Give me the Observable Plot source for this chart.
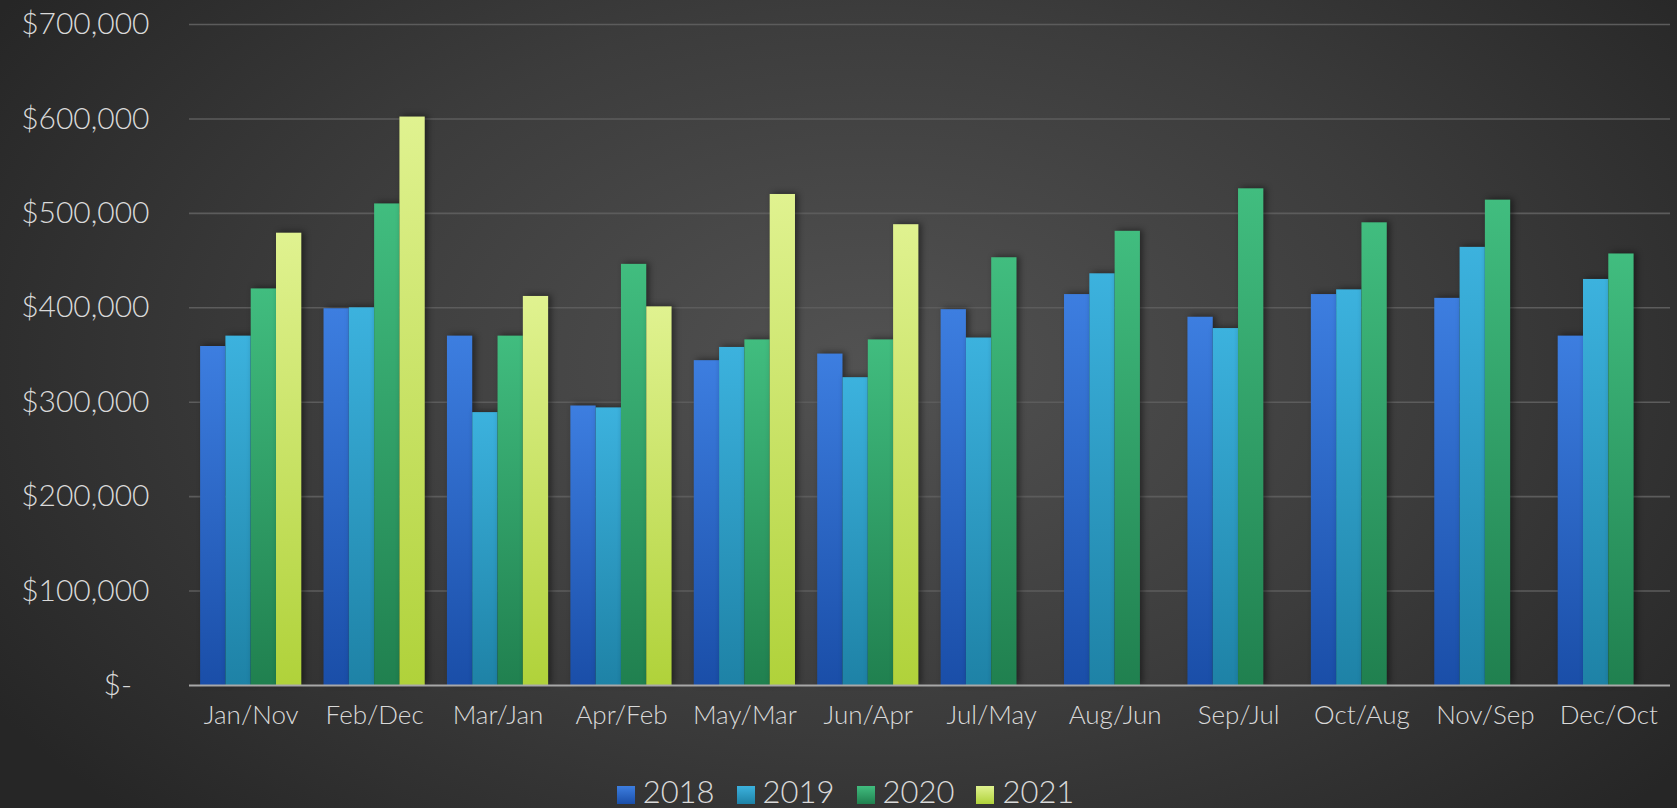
<!DOCTYPE html>
<html>
<head>
<meta charset="utf-8">
<script src="https://cdn.jsdelivr.net/npm/d3@7"></script>
<script src="https://cdn.jsdelivr.net/npm/@observablehq/plot@0.6"></script>
<style>
  html, body { margin: 0; padding: 0; }
  body {
    width: 1677px; height: 808px; overflow: hidden; position: relative;
    background: radial-gradient(ellipse 62% 80% at 52% 45%, #525252 0%, #3c3c3c 55%, #262626 100%);
    font-family: Lato, "Open Sans", sans-serif;
  }
  #chart { position: absolute; left: 0; top: 0; }
  #chart svg [aria-label^="y-axis"] text { font-size: 30px; font-weight: 300; }
  #chart svg [aria-label^="x-axis"] text { font-size: 26px; font-weight: 300; }
  #chart svg [aria-label="rect"] rect { filter: drop-shadow(3px -1px 3px rgba(0,0,0,0.45)); }
  #legend {
    position: absolute; left: 7px; top: 774px; width: 1677px; text-align: center;
    color: #d9d9d9; font-size: 31px; font-weight: 300; line-height: 34px; white-space: nowrap;
  }
  #legend .item { display: inline-block; margin: 0 11px; }
  #legend .sw { display: inline-block; width: 18px; height: 18px; margin-right: 8px; vertical-align: -1px; }
</style>
</head>
<body>
<div id="chart"></div>
<div id="legend"></div>
<script>
// ---- data ----
const months = ["Jan/Nov", "Feb/Dec", "Mar/Jan", "Apr/Feb", "May/Mar", "Jun/Apr",
                "Jul/May", "Aug/Jun", "Sep/Jul", "Oct/Aug", "Nov/Sep", "Dec/Oct"];
const years = ["2018", "2019", "2020", "2021"];
const v2018 = [359000, 399000, 370000, 296000, 344000, 351000, 398000, 414000, 390000, 414000, 410000, 370000];
const v2019 = [370000, 400000, 289000, 294000, 358000, 326000, 368000, 436000, 378000, 419000, 464000, 430000];
const v2020 = [420000, 510000, 370000, 446000, 366000, 366000, 453000, 481000, 526000, 490000, 514000, 457000];
const v2021 = [479000, 602000, 412000, 401000, 520000, 488000, null, null, null, null, null, null];
const yTicks = [0, 100000, 200000, 300000, 400000, 500000, 600000, 700000];

// ---- styling ----
const gradients = {
  "2018": ["#3d7ee0", "#1a4ea8"],
  "2019": ["#3cb2de", "#1e82a6"],
  "2020": ["#41bd7f", "#20804f"],
  "2021": ["#e0f290", "#b0d23a"]
};
const groupPad = 0.09;             // fraction of each category left empty on each side
const barW = (1 - 2 * groupPad) / years.length;

const series = [v2018, v2019, v2020, v2021];
const table = months.flatMap((m, i) =>
  series.map((vals, j) => ({month: m, idx: i, year: years[j], yi: j, value: vals[i]}))
).filter(d => d.value != null);

const fmt = d3.format(",");
const yFormat = d => d === 0 ? "$-\u2007" : "$" + fmt(d);

const plot = Plot.plot({
  width: 1677,
  height: 770,
  marginLeft: 189,
  marginRight: 7,
  marginTop: 24,
  marginBottom: 85,
  style: {background: "transparent", color: "#d9d9d9", fontFamily: "Lato, 'Open Sans', sans-serif", overflow: "visible"},
  x: {type: "linear", domain: [0, months.length], ticks: months.map((m, i) => i + 0.5),
      tickFormat: v => months[Math.floor(v)], tickSize: 0, tickPadding: 20, label: null, axis: "bottom"},
  y: {domain: [0, 700000], ticks: 7, tickFormat: yFormat, tickSize: 0, tickPadding: 40, label: null},
  marks: [
    Plot.ruleY(yTicks.filter(d => d > 0), {stroke: "#5c5c5c", strokeWidth: 1.6}),
    ...years.map(y => Plot.rectY(table.filter(d => d.year === y), {
      x1: d => d.idx + groupPad + d.yi * barW,
      x2: d => d.idx + groupPad + (d.yi + 1) * barW,
      y: "value",
      fill: `url(#grad${y})`
    })),
    Plot.ruleY([0], {stroke: "#a8a8a8", strokeWidth: 2.2})
  ]
});

// gradient definitions for the bar fills
const svg = d3.select(plot);
const defs = svg.insert("defs", ":first-child");
for (const y of years) {
  const g = defs.append("linearGradient").attr("id", `grad${y}`)
    .attr("x1", 0).attr("y1", 0).attr("x2", 0).attr("y2", 1);
  g.append("stop").attr("offset", "0%").attr("stop-color", gradients[y][0]);
  g.append("stop").attr("offset", "100%").attr("stop-color", gradients[y][1]);
}
document.getElementById("chart").appendChild(plot);

// legend
const legend = d3.select("#legend");
for (const y of years) {
  const it = legend.append("span").attr("class", "item");
  it.append("span").attr("class", "sw")
    .style("background", `linear-gradient(${gradients[y][0]}, ${gradients[y][1]})`);
  it.append("span").text(y);
}
</script>
</body>
</html>
